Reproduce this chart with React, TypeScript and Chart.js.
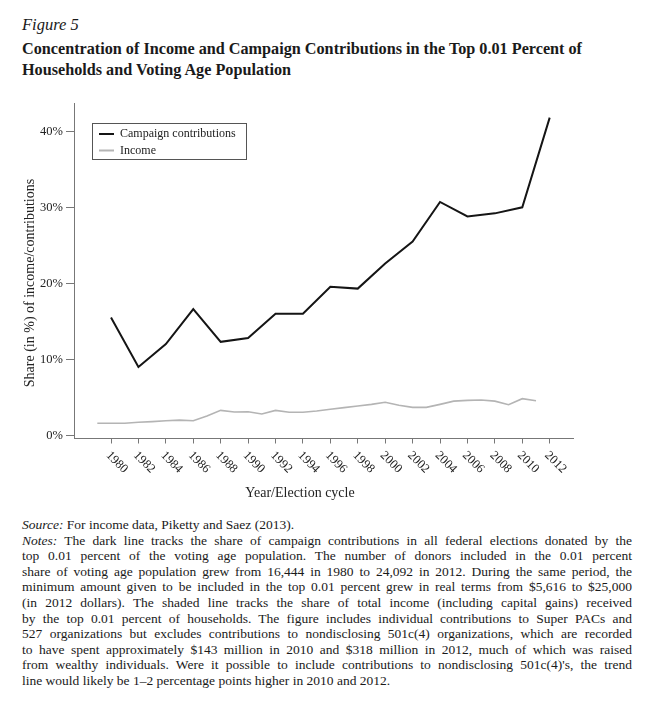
import { useEffect, useRef } from 'react'
import { Chart, registerables } from 'chart.js'

Chart.register(...registerables)

// campaign contributions, election years
const campaignYears = [1980, 1982, 1984, 1986, 1988, 1990, 1992, 1994, 1996, 1998, 2000, 2002, 2004, 2006, 2008, 2010, 2012]
const campaignShare = [15.5, 9.0, 12.0, 16.6, 12.3, 12.8, 16.0, 16.0, 19.55, 19.3, 22.6, 25.5, 30.7, 28.8, 29.2, 30.0, 41.8]

// income share, yearly 1979-2011
const incomeYears = [
  1979, 1980, 1981, 1982, 1983, 1984, 1985, 1986, 1987, 1988, 1989, 1990, 1991, 1992, 1993, 1994, 1995,
  1996, 1997, 1998, 1999, 2000, 2001, 2002, 2003, 2004, 2005, 2006, 2007, 2008, 2009, 2010, 2011,
]
const incomeShare = [
  1.58, 1.58, 1.58, 1.71, 1.8, 1.92, 2.0, 1.92, 2.54, 3.28, 3.07, 3.1, 2.8, 3.28, 3.03, 3.03, 3.2,
  3.42, 3.64, 3.86, 4.07, 4.34, 3.95, 3.68, 3.68, 4.07, 4.5, 4.6, 4.65, 4.5, 4.03, 4.82, 4.55,
]

const xTicks = [1980, 1982, 1984, 1986, 1988, 1990, 1992, 1994, 1996, 1998, 2000, 2002, 2004, 2006, 2008, 2010, 2012]
const yTicks = [0, 10, 20, 30, 40]

const seriesLabels = ['Campaign contributions', 'Income']
const xTitle = 'Year/Election cycle'
const yTitle = 'Share (in %) of income/contributions'

const noteLines = [
  'The dark line tracks the share of campaign contributions in all federal elections donated by the',
  'top 0.01 percent of the voting age population. The number of donors included in the 0.01 percent',
  'share of voting age population grew from 16,444 in 1980 to 24,092 in 2012. During the same period, the',
  'minimum amount given to be included in the top 0.01 percent grew in real terms from $5,616 to $25,000',
  '(in 2012 dollars). The shaded line tracks the share of total income (including capital gains) received',
  'by the top 0.01 percent of households. The figure includes individual contributions to Super PACs and',
  '527 organizations but excludes contributions to nondisclosing 501c(4) organizations, which are recorded',
  'to have spent approximately $143 million in 2010 and $318 million in 2012, much of which was raised',
  "from wealthy individuals. Were it possible to include contributions to nondisclosing 501c(4)'s, the trend",
  'line would likely be 1–2 percentage points higher in 2010 and 2012.',
]

const SERIF = '"Liberation Serif", "DejaVu Serif", serif'

// draws rotated year labels, axis titles and the boxed legend
const decorations = {
  id: 'decorations',
  afterDraw(chart: any) {
    const { ctx, scales, chartArea } = chart
    const x = scales.x
    ctx.save()
    ctx.fillStyle = '#222'
    ctx.font = `12.5px ${SERIF}`
    ctx.textAlign = 'left'
    ctx.textBaseline = 'middle'
    xTicks.forEach(v => {
      const px = x.getPixelForValue(v)
      ctx.save()
      ctx.translate(px - 3, chartArea.bottom + 15)
      ctx.rotate(Math.PI / 4)
      ctx.fillText(String(v), 0, 0)
      ctx.restore()
    })

    ctx.font = `14px ${SERIF}`
    ctx.textAlign = 'center'
    ctx.fillText(xTitle, 300, 403)
    ctx.save()
    ctx.translate(30, 193)
    ctx.rotate(-Math.PI / 2)
    ctx.fillText(yTitle, 0, 0)
    ctx.restore()

    // legend
    ctx.strokeStyle = '#555'
    ctx.lineWidth = 1
    ctx.strokeRect(92.5, 33.5, 154, 36)
    ctx.font = `12px ${SERIF}`
    ctx.textAlign = 'left'
    chart.data.datasets.forEach((ds: any, i: number) => {
      const cy = 44 + i * 16.5
      ctx.strokeStyle = ds.borderColor
      ctx.lineWidth = 2
      ctx.beginPath()
      ctx.moveTo(99, cy)
      ctx.lineTo(114, cy)
      ctx.stroke()
      ctx.fillStyle = '#222'
      ctx.fillText(ds.label, 120, cy)
    })
    ctx.restore()
  },
}

function FigureChart() {
  const canvasRef = useRef<HTMLCanvasElement>(null)
  const chartRef = useRef<Chart | null>(null)

  useEffect(() => {
    if (!canvasRef.current) return
    chartRef.current?.destroy()
    chartRef.current = new Chart(canvasRef.current, {
      type: 'line',
      data: {
        datasets: [
          {
            label: seriesLabels[0],
            data: campaignYears.map((yr, i) => ({ x: yr, y: campaignShare[i] })),
            borderColor: '#151515',
            borderWidth: 2,
            pointRadius: 0,
            tension: 0,
          },
          {
            label: seriesLabels[1],
            data: incomeYears.map((yr, i) => ({ x: yr, y: incomeShare[i] })),
            borderColor: '#b4b4b4',
            borderWidth: 1.6,
            pointRadius: 0,
            tension: 0,
          },
        ],
      },
      options: {
        animation: false,
        responsive: true,
        maintainAspectRatio: false,
        layout: { padding: { top: 13, right: 47, left: 0, bottom: 0 } },
        plugins: { legend: { display: false }, tooltip: { enabled: false } },
        scales: {
          x: {
            type: 'linear',
            min: 1977.3,
            max: 2013.7,
            afterBuildTicks: (s: any) => { s.ticks = xTicks.map(v => ({ value: v })) },
            afterFit: (s: any) => { s.height = 71.5 },
            ticks: { display: false },
            grid: { drawOnChartArea: false, drawTicks: true, tickLength: 5, color: '#777' },
            border: { color: '#777', width: 1 },
          },
          y: {
            min: -0.42,
            max: 43.72,
            afterBuildTicks: (s: any) => { s.ticks = yTicks.map(v => ({ value: v })) },
            afterFit: (s: any) => { s.width = 74 },
            ticks: {
              callback: (v: any) => `${v}%`,
              color: '#222',
              font: { family: SERIF, size: 12.5 },
              padding: 3,
            },
            grid: { drawOnChartArea: false, drawTicks: true, tickLength: 8, color: '#777' },
            border: { color: '#777', width: 1 },
          },
        },
      },
      plugins: [decorations],
    })
    return () => {
      chartRef.current?.destroy()
      chartRef.current = null
    }
  }, [])

  return (
    <div style={{ position: 'absolute', left: 0, top: 90, width: 620, height: 420 }}>
      <canvas ref={canvasRef} />
    </div>
  )
}

export default function App() {
  return (
    <div style={{ position: 'relative', width: 656, height: 708, fontFamily: SERIF, color: '#1a1a1a', background: '#fff' }}>
      <style>{'body{margin:0}'}</style>
      <div style={{ position: 'absolute', left: 22, top: 15, fontStyle: 'italic', fontSize: 16.5, lineHeight: '20px' }}>Figure 5</div>
      <div style={{ position: 'absolute', left: 22, top: 39, fontWeight: 'bold', fontSize: 16.2, lineHeight: '21px', width: 630, whiteSpace: 'nowrap' }}>
        Concentration of Income and Campaign Contributions in the Top 0.01 Percent of
        <br />
        Households and Voting Age Population
      </div>
      <FigureChart />
      <div style={{ position: 'absolute', left: 22, top: 517, width: 610, fontSize: 13.5, lineHeight: '15.6px' }}>
        <div><i>Source:</i> For income data, Piketty and Saez (2013).</div>
        {noteLines.map((line, i) => (
          <div
            key={i}
            style={{ textAlign: 'justify', textAlignLast: i < noteLines.length - 1 ? 'justify' : 'left', whiteSpace: 'nowrap' }}
          >
            {i === 0 ? <><i>Notes:</i> {line}</> : line}
          </div>
        ))}
      </div>
    </div>
  )
}
